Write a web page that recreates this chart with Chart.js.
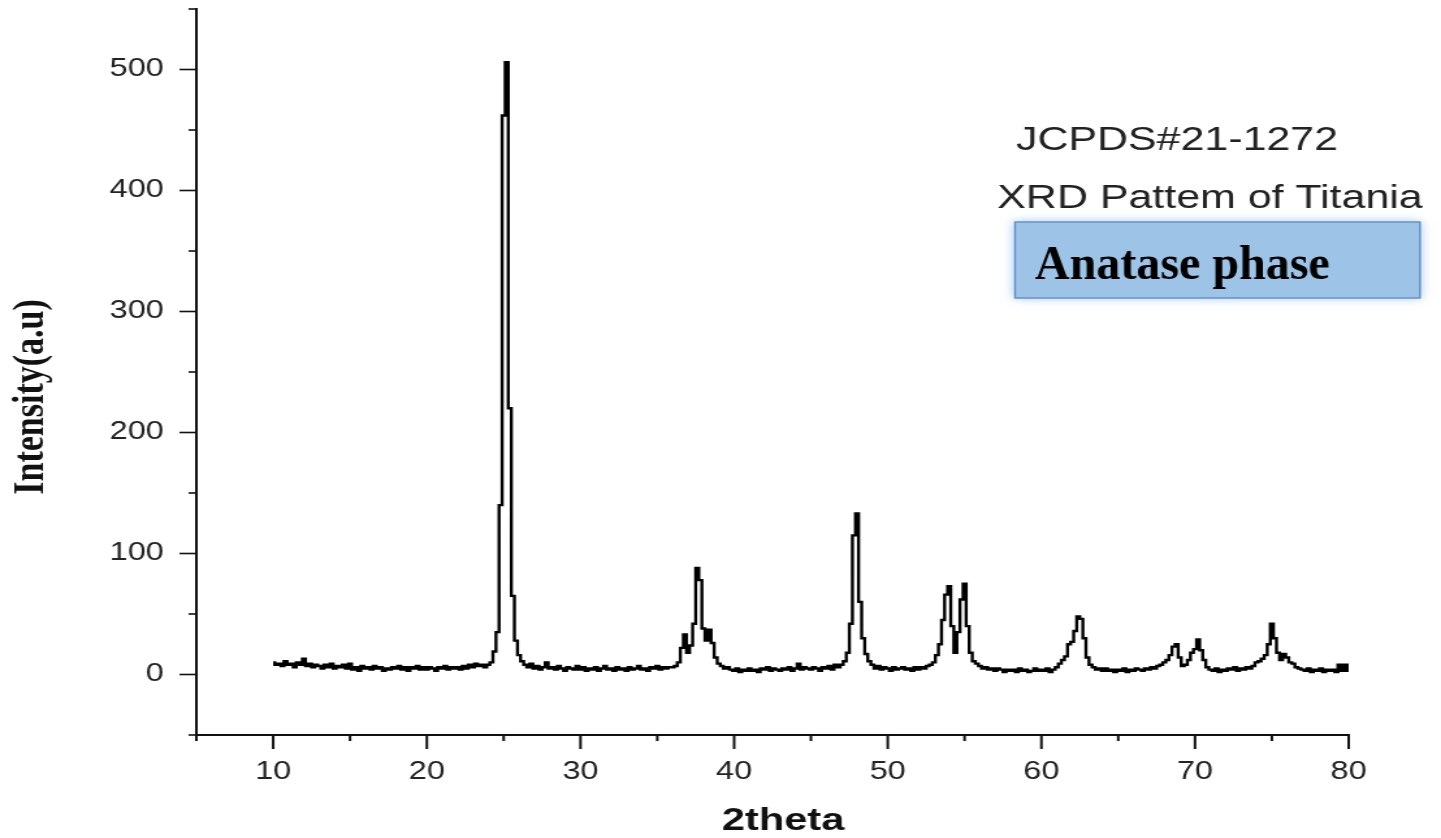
<!DOCTYPE html>
<html>
<head>
<meta charset="utf-8">
<title>XRD Pattern of Titania</title>
<script src="https://cdn.jsdelivr.net/npm/chart.js@4.4.1/dist/chart.umd.min.js"></script>
<style>
    html, body { margin: 0; padding: 0; background: #fff; overflow: hidden; }
    #xrdChart { display: block; }
</style>
</head>
<body>
<!-- the figure is drawn narrow and stretched sideways, like the original plot -->
<canvas id="xrdChart" width="1108" height="838" style="width:1441px;height:838px"></canvas>
<script>
// measurement grid: 2theta from 10 to 80 deg in 0.2 deg steps
const thetaStart = 10;
const thetaStep = 0.2;

// intensity (a.u), five readings per degree, row = 10, 11, 12 ... 80
const intensity = [
    10, 8, 9, 7, 11,
    8, 9, 6, 10, 8,
    13, 7, 9, 6, 8,
    7, 5, 8, 6, 9,
    5, 7, 6, 8, 5,
    9, 4, 6, 3, 7,
    5, 6, 4, 7, 5,
    6, 3, 5, 4, 6,
    5, 7, 4, 6, 3,
    6, 5, 7, 4, 6,
    4, 6, 5, 3, 6,
    5, 7, 4, 6, 5,
    6, 4, 7, 5, 8,
    6, 9, 7, 8, 6,
    8, 10, 19, 35, 140,
    462, 506, 220, 65, 28,
    16, 11, 8, 6, 9,
    5, 7, 4, 6, 10,
    5, 6, 4, 7, 5,
    3, 6, 5, 4, 7,
    4, 6, 3, 5, 4,
    6, 3, 5, 7, 4,
    5, 3, 6, 4, 5,
    3, 6, 4, 5, 7,
    4, 5, 3, 6, 5,
    7, 4, 6, 5, 6,
    6, 7, 10, 22, 33,
    18, 24, 42, 88, 78,
    38, 28, 37, 26, 14,
    9, 7, 5, 6, 4,
    3, 5, 2, 4, 3,
    5, 3, 4, 2, 5,
    4, 6, 3, 5, 4,
    3, 5, 4, 6, 3,
    5, 9, 4, 6, 5,
    4, 6, 5, 3, 6,
    5, 7, 4, 8, 6,
    8, 11, 18, 42, 115,
    133, 60, 30, 17, 11,
    8, 5, 7, 4, 6,
    5, 3, 6, 4, 5,
    6, 4, 5, 3, 6,
    4, 6, 5, 7, 8,
    10, 16, 25, 45, 66,
    73, 40, 18, 35, 62,
    75, 40, 18, 11, 9,
    7, 5, 6, 4, 5,
    3, 5, 4, 2, 4,
    3, 4, 2, 5, 3,
    4, 2, 3, 5, 3,
    4, 3, 5, 2, 4,
    6, 9, 12, 15, 25,
    27, 36, 48, 46, 30,
    14, 8, 6, 4, 5,
    3, 5, 3, 4, 2,
    4, 3, 5, 2, 4,
    3, 5, 4, 3, 5,
    4, 6, 5, 7, 8,
    10, 12, 16, 23, 25,
    14, 7, 8, 12, 18,
    21, 29, 20, 12, 6,
    4, 3, 5, 2, 4,
    3, 5, 4, 6, 3,
    5, 4, 6, 5, 7,
    10, 11, 13, 16, 25,
    42, 30, 18, 12, 17,
    14, 10, 9, 6, 5,
    4, 3, 5, 2, 4,
    3, 5, 2, 4, 3,
    4, 2, 8, 3, 8,
    3
];

const xTickLabels = [10, 20, 30, 40, 50, 60, 70, 80];
const yTickLabels = [0, 100, 200, 300, 400, 500];

const xTitle = "2theta";
const yTitle = "Intensity(a.u)";
const cardNote = "JCPDS#21-1272";
const patternNote = "XRD Pattem of Titania";
const phaseNote = "Anatase phase";

const stretch = 1441 / 1108;

let points = intensity.map((v, i) => ({ x: +(thetaStart + i * thetaStep).toFixed(1), y: v }));

// Origin style ticks: long ones at labels, short ones in between
const axisMarks = {
    id: "axisMarks",
    afterDraw(chart) {
        let ctx = chart.ctx;
        let xs = chart.scales.x;
        let ys = chart.scales.y;
        let area = chart.chartArea;
        ctx.save();
        ctx.strokeStyle = "#111";

        ctx.lineWidth = 2;
        xs.ticks.forEach(t => {
            let px = xs.getPixelForValue(t.value);
            let len = xTickLabels.includes(t.value) ? 14 : 6;
            ctx.beginPath();
            ctx.moveTo(px, area.bottom);
            ctx.lineTo(px, area.bottom + len);
            ctx.stroke();
        });

        ctx.lineWidth = 1.6;
        ys.ticks.forEach(t => {
            let py = ys.getPixelForValue(t.value);
            let len = yTickLabels.includes(t.value) ? 13 : 6;
            ctx.beginPath();
            ctx.moveTo(area.left, py);
            ctx.lineTo(area.left - len, py);
            ctx.stroke();
        });
        ctx.restore();
    }
};

const figureText = {
    id: "figureText",
    afterDraw(chart) {
        let ctx = chart.ctx;
        ctx.save();
        ctx.fillStyle = "#111";
        ctx.textAlign = "center";
        ctx.textBaseline = "middle";

        // axis titles
        ctx.font = "bold 32px 'Liberation Sans', Arial, sans-serif";
        ctx.fillText(xTitle, 783 / stretch, 821);

        ctx.save();
        ctx.translate(31 / stretch, 397);
        ctx.rotate(-Math.PI / 2);
        ctx.font = "bold 34px 'Liberation Serif', 'Times New Roman', serif";
        ctx.fillText(yTitle, 0, 0);
        ctx.restore();

        // notes at upper right
        ctx.fillStyle = "#222";
        ctx.font = "33px 'Liberation Sans', Arial, sans-serif";
        ctx.fillText(cardNote, 1177 / stretch, 141);
        ctx.fillText(patternNote, 1210 / stretch, 199);

        // blue label box
        let bx = 1015 / stretch, bw = 405 / stretch, by = 222, bh = 76;
        ctx.save();
        ctx.shadowColor = "rgba(110, 165, 225, 0.7)";
        ctx.shadowBlur = 9;
        ctx.fillStyle = "#9dc3e6";
        ctx.fillRect(bx, by, bw, bh);
        ctx.restore();
        ctx.strokeStyle = "#5f8fc8";
        ctx.lineWidth = 1.4;
        ctx.strokeRect(bx, by, bw, bh);

        ctx.save();
        ctx.translate(1035 / stretch, 279);
        ctx.scale(1 / stretch, 1);
        ctx.fillStyle = "#000";
        ctx.textAlign = "left";
        ctx.textBaseline = "alphabetic";
        ctx.font = "bold 48px 'Liberation Serif', 'Times New Roman', serif";
        ctx.fillText(phaseNote, 0, 0);
        ctx.restore();

        ctx.restore();
    }
};

let ctx = document.getElementById("xrdChart").getContext("2d");

window.xrdChartInstance = new Chart(ctx, {
    type: "line",
    data: {
        datasets: [{
            label: "Titania",
            data: points,
            borderColor: "#000",
            borderWidth: 2.4,
            pointRadius: 0,
            stepped: "middle",
            fill: false
        }]
    },
    options: {
        responsive: false,
        devicePixelRatio: 1,
        animation: false,
        layout: { padding: { left: 0, right: 71, top: 9, bottom: 0 } },
        plugins: {
            legend: { display: false },
            tooltip: { enabled: false }
        },
        scales: {
            x: {
                type: "linear",
                min: 5,
                max: 80,
                border: { display: true, color: "#111", width: 2 },
                grid: { drawOnChartArea: false, tickLength: 14, tickColor: "rgba(0,0,0,0)" },
                ticks: {
                    stepSize: 5,
                    autoSkip: false,
                    maxRotation: 0,
                    padding: 8,
                    color: "#222",
                    font: { family: "'Liberation Sans', Arial, sans-serif", size: 25 },
                    callback: v => xTickLabels.includes(v) ? String(v) : ""
                },
                afterFit(scale) {
                    scale.height = 103;
                    scale.paddingLeft = 0;
                    scale.paddingRight = 0;
                }
            },
            y: {
                min: -50,
                max: 550,
                border: { display: true, color: "#111", width: 2 },
                grid: { drawOnChartArea: false, tickLength: 13, tickColor: "rgba(0,0,0,0)" },
                ticks: {
                    stepSize: 50,
                    autoSkip: false,
                    padding: 12,
                    color: "#222",
                    font: { family: "'Liberation Sans', Arial, sans-serif", size: 25 },
                    callback: v => yTickLabels.includes(v) ? String(v) : ""
                },
                afterFit(scale) {
                    scale.width = 151;
                    scale.paddingTop = 0;
                    scale.paddingBottom = 0;
                }
            }
        }
    },
    plugins: [axisMarks, figureText]
});
</script>
</body>
</html>
